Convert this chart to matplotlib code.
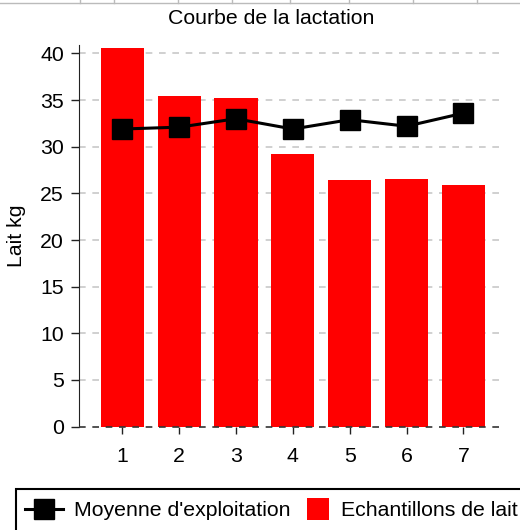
import matplotlib.pyplot as plt
from matplotlib.lines import Line2D
from matplotlib.patches import Rectangle
from matplotlib.legend_handler import HandlerPatch

plt.rcParams['font.family'] = ['Liberation Sans', 'DejaVu Sans']

# data
mois = [1, 2, 3, 4, 5, 6, 7]
echantillons = [40.6, 35.4, 35.2, 29.2, 26.4, 26.5, 25.9]
moyenne = [31.9, 32.1, 33.0, 31.9, 32.9, 32.2, 33.6]
y_ticks = [0, 5, 10, 15, 20, 25, 30, 35, 40]


def square_patch(legend, orig_handle, xdescent, ydescent, width, height, fontsize):
    # small square, pushed to the right end of the handle box
    s = 16
    return Rectangle((width - s - xdescent, height / 2 - s / 2 - ydescent), s, s)


fig = plt.figure(figsize=(5.2, 5.3), dpi=100)
ax = fig.add_axes([0.152, 0.195, 0.819, 0.72])

bars = ax.bar(mois, echantillons, width=0.76, color='#ff0000', label='Echantillons de lait', zorder=2)
line, = ax.plot(mois, moyenne, color='black', lw=2.2, marker='s', markersize=14,
                label="Moyenne d'exploitation", zorder=3)

ax.set_xlim(0.24, 7.73)
ax.set_ylim(0, 40.9)
ax.set_xticks(mois)
ax.set_yticks(y_ticks)
ax.tick_params(axis='both', labelsize=15.3, colors='#222222', labelcolor='black')
ax.tick_params(axis='y', length=6, width=1, pad=5)
ax.tick_params(axis='x', length=5, width=1, pad=10)

for v in y_ticks[1:]:
    ax.axhline(v, color='#c8c8c8', lw=1.2, ls=(0, (4, 4)), zorder=1)
ax.axhline(0, color='#333333', lw=1.2, ls=(0, (4, 4)), zorder=4, clip_on=False)

for side in ['top', 'right', 'bottom']:
    ax.spines[side].set_visible(False)
ax.spines['left'].set_color('#222222')

fig.text(0.521, 0.966, 'Courbe de la lactation', fontsize=15.3, ha='center', va='center')
ax.set_ylabel('Lait kg', fontsize=15.3, labelpad=10)

bar_handle = bars.patches[0]
leg = fig.legend([line, bar_handle], ["Moyenne d'exploitation", 'Echantillons de lait'],
                 handler_map={bar_handle: HandlerPatch(patch_func=square_patch)},
                 loc='center left', bbox_to_anchor=(0.031, 1 - 511 / 530), ncol=2, fontsize=15.3,
                 frameon=False, borderpad=0.4,
                 handlelength=1.79, columnspacing=0.0, handletextpad=0.55,
                 borderaxespad=0)
# legend box runs off the bottom and right edges in the reference
fig.add_artist(Rectangle((16 / 520, -0.1), 1.0, (530 - 489) / 530 + 0.1,
                         transform=fig.transFigure, fill=False, lw=1.5, ec='black'))

# page border seen above the chart
fig.add_artist(Line2D([0, 1], [0.995, 0.995], color='#bbbbbb', lw=1))
for xp in [80, 114, 178, 232, 290, 349, 413, 477]:
    fig.add_artist(Line2D([xp / 520, xp / 520], [0.995, 1.0], color='#bbbbbb', lw=1))

fig.savefig('out.png', dpi=100)
